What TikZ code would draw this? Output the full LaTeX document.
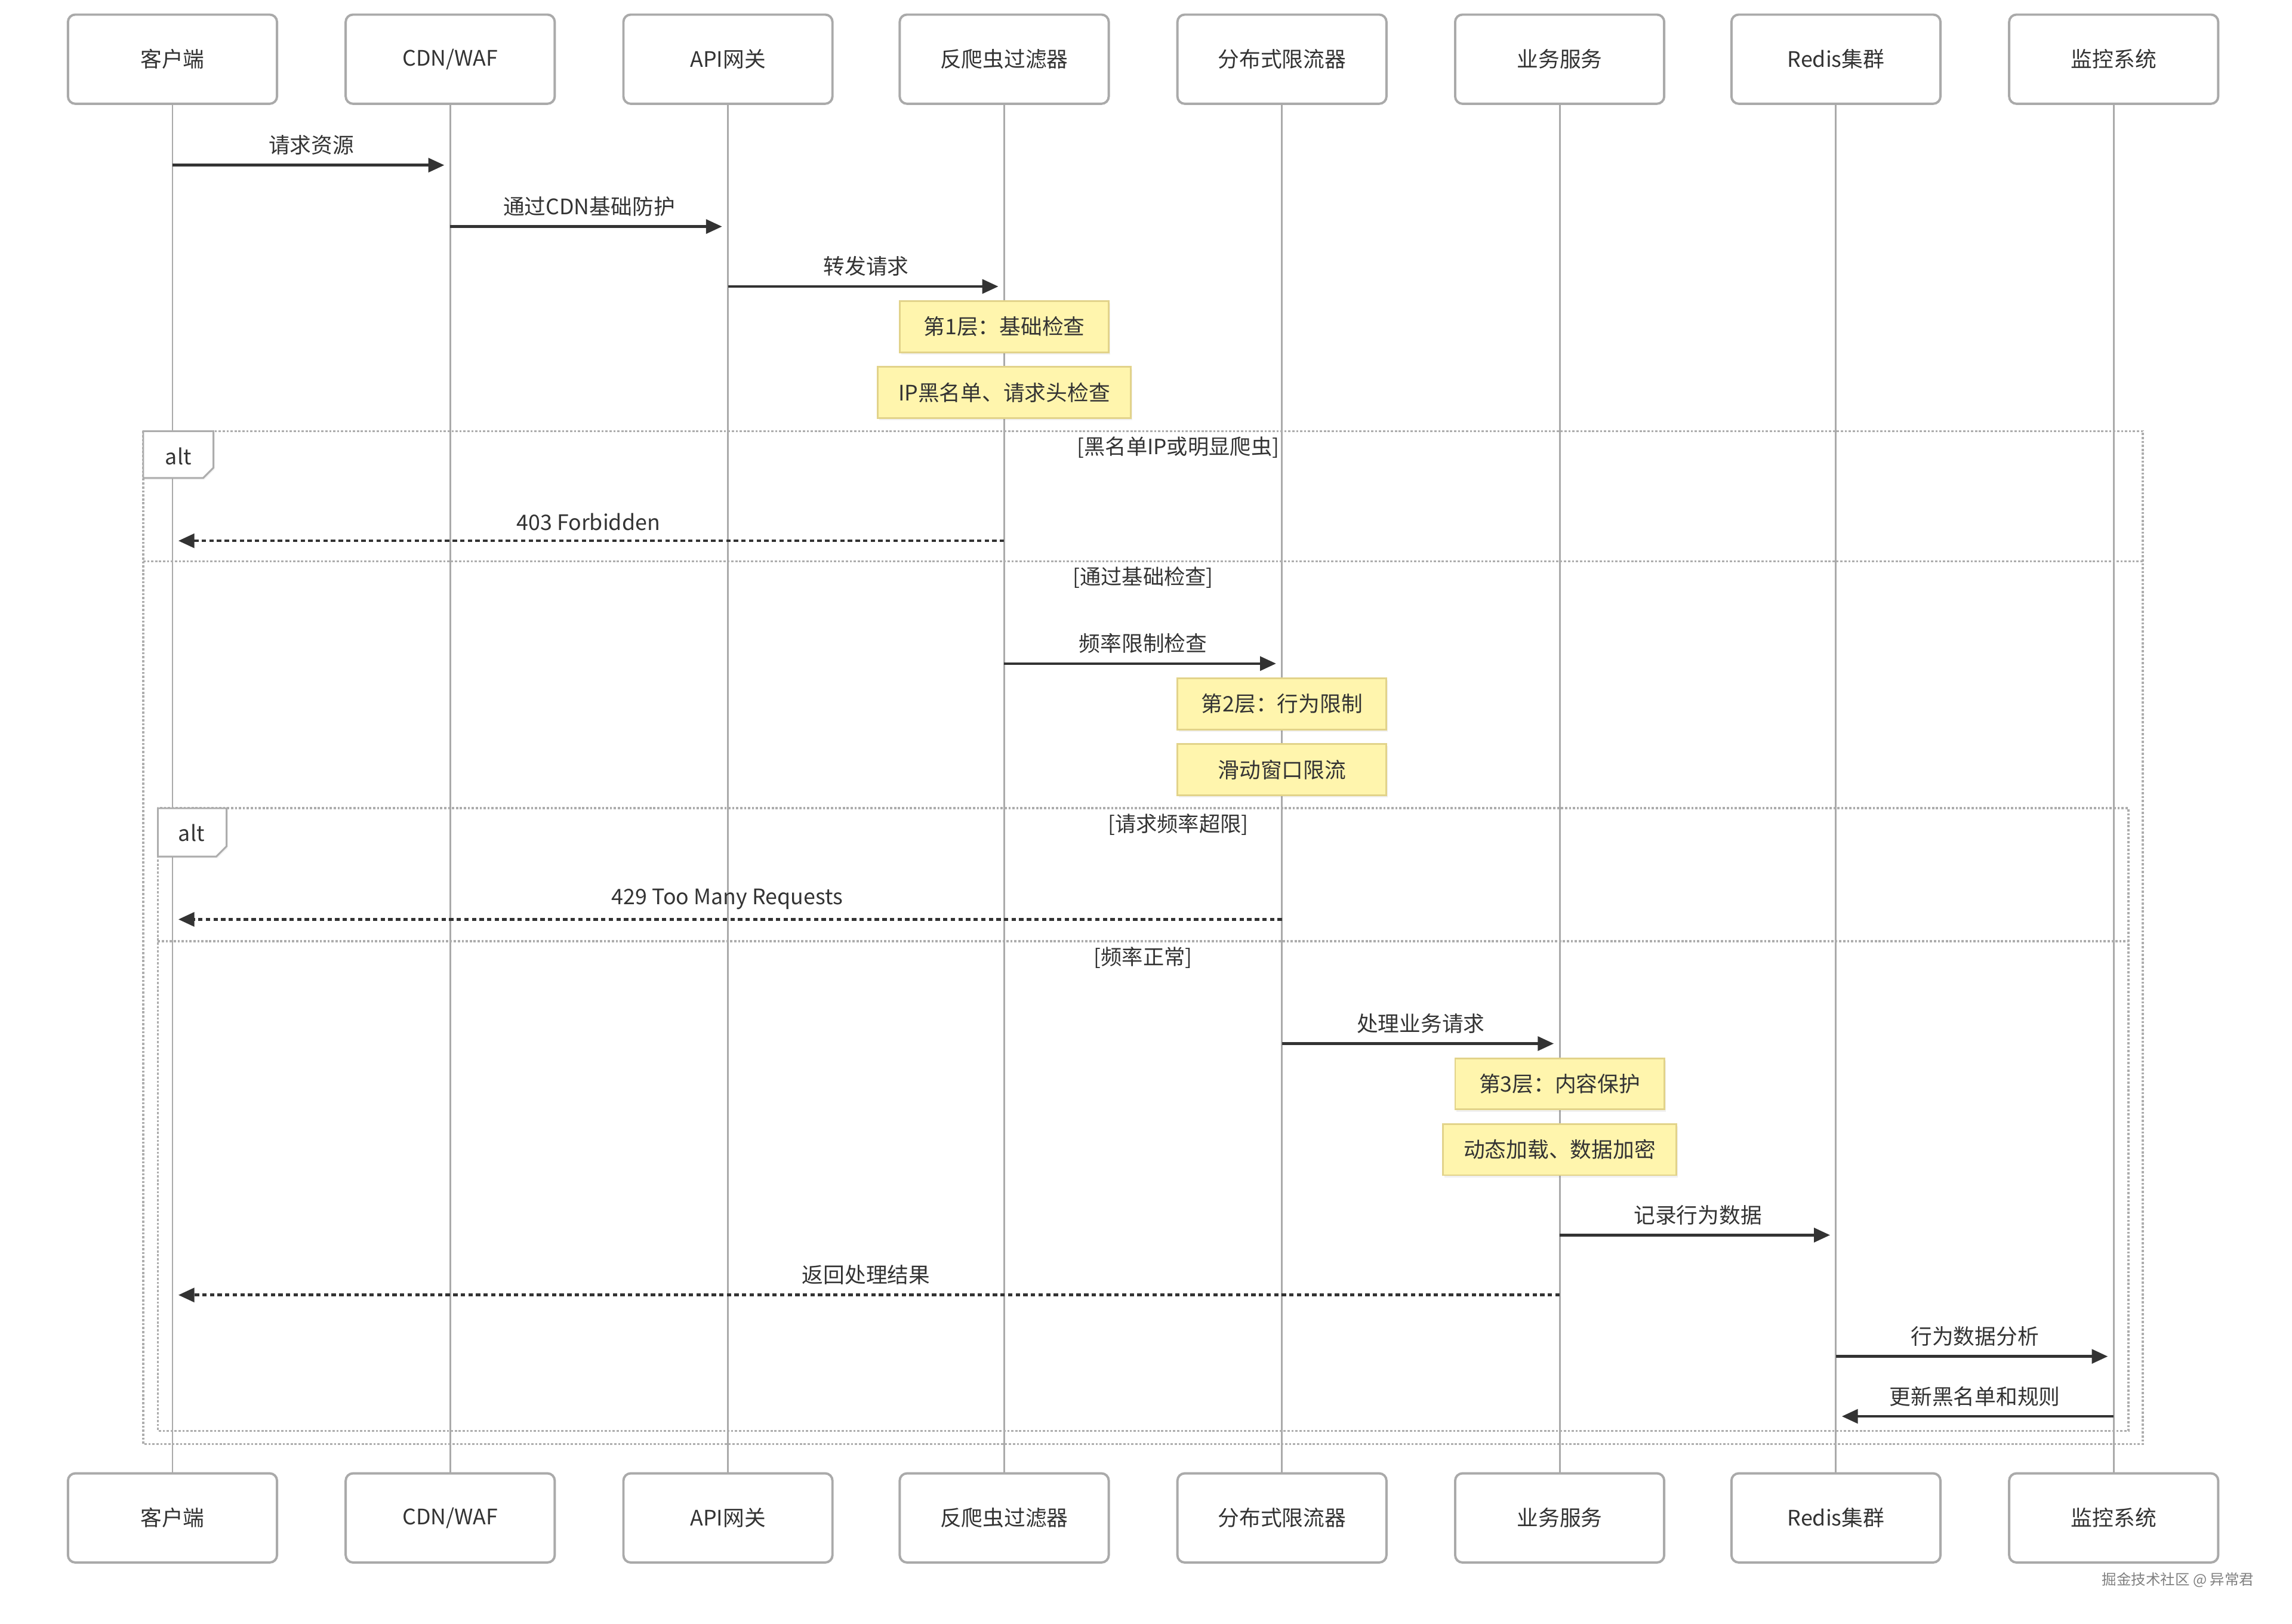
\documentclass[tikz,border=0pt]{standalone}
\usepackage{fontspec}
\setmainfont{Noto Sans CJK SC}
\usetikzlibrary{arrows.meta,positioning,calc,shadows}
\definecolor{ink}{HTML}{333333}
\definecolor{rule}{HTML}{AAAAAA}
\definecolor{notefill}{HTML}{FFF5AD}
\definecolor{noteedge}{HTML}{E2D38A}
\definecolor{framegray}{HTML}{ADADAD}

\begin{document}
\begin{tikzpicture}[x=0.5pt,y=-0.5pt,font=\fontsize{7.3}{9}\selectfont,text=ink,
  actor/.style={draw=rule,line width=0.8pt,fill=white,rounded corners=2.5pt,minimum width=71.5pt,minimum height=30.5pt},
  life/.style={draw=rule,line width=0.6pt},
  note/.style={draw=noteedge,line width=0.6pt,fill=notefill,minimum width=71.5pt,minimum height=17.5pt,inner xsep=7pt,
    drop shadow={opacity=0.12,shadow xshift=0.5pt,shadow yshift=-0.8pt}},
  msg/.style={draw=ink,line width=0.95pt,-{Triangle[length=5.5pt,width=4.8pt]},shorten >=2pt},
  reply/.style={msg,dash pattern=on 1.5pt off 1.1pt},
  lbl/.style={midway,above,inner sep=3pt},
  frame/.style={draw=framegray,line width=0.75pt,dash pattern=on 0.75pt off 0.6pt},
  guard/.style={font=\fontsize{7.2}{9}\selectfont},
  tab/.style={draw=framegray,line width=0.6pt,fill=white,drop shadow={opacity=0.1,shadow xshift=0.4pt,shadow yshift=-0.6pt}}]
\useasboundingbox (0,0) rectangle (1568,1111);

% participants, top and bottom
\foreach \n/\x/\t in {cli/118/客户端,cdn/308/{CDN/WAF},gw/498/API网关,filt/687/反爬虫过滤器,
                      lim/877/分布式限流器,svc/1067/业务服务,rds/1256/Redis集群,mon/1446/监控系统}{
  \node[actor] (\n)   at (\x,40.5)   {\t};
  \node[actor] (\n-b) at (\x,1038.5) {\t};
  \draw[life] (\n) -- (\n-b);
}

% alt frames
\draw[frame] (98,295) rectangle (1466,988);
\draw[frame] (98,384) -- (1466,384);
\draw[frame] (108,553) rectangle (1456,979);
\draw[frame] (108,644) -- (1456,644);
\draw[tab] (98,295) -- (146,295) -- (146,320) -- (139,327) -- (98,327) -- cycle;
\node (alt1) at (122,312) {alt};
\draw[tab] (108,553) -- (155,553) -- (155,579) -- (148,586) -- (108,586) -- cycle;
\node (alt2) at (131,570) {alt};
\node[guard] (g1) at (806,306) {[黑名单IP或明显爬虫]};
\node[guard] (g2) at (782,395) {[通过基础检查]};
\node[guard] (g3) at (806,564) {[请求频率超限]};
\node[guard] (g4) at (782,655) {[频率正常]};

% message rows
\coordinate (r1) at (0,113);
\coordinate (r2) at (0,155);
\coordinate (r3) at (0,196);
\coordinate (r4) at (0,370);
\coordinate (r5) at (0,454);
\coordinate (r6) at (0,629);
\coordinate (r7) at (0,714);
\coordinate (r8) at (0,845);
\coordinate (r9) at (0,886);
\coordinate (r10) at (0,928);
\coordinate (r11) at (0,969);

\draw[msg] (cli |- r1) -- (cdn |- r1) node[lbl] {请求资源};
\draw[msg] (cdn |- r2) -- (gw |- r2) node[lbl] {通过CDN基础防护};
\draw[msg] (gw |- r3) -- (filt |- r3) node[lbl] {转发请求};
\node[note] (n1) at (687,223.5) {第1层：基础检查};
\node[note] (n2) at (687,268.5) {IP黑名单、请求头检查};
\draw[reply] (filt |- r4) -- (cli |- r4) node[lbl] {403 Forbidden};
\draw[msg] (filt |- r5) -- (lim |- r5) node[lbl] {频率限制检查};
\node[note] (n3) at (877,481.5) {第2层：行为限制};
\node[note] (n4) at (877,526.5) {滑动窗口限流};
\draw[reply] (lim |- r6) -- (cli |- r6) node[lbl] {429 Too Many Requests};
\draw[msg] (lim |- r7) -- (svc |- r7) node[lbl] {处理业务请求};
\node[note] (n5) at (1067,741.5) {第3层：内容保护};
\node[note] (n6) at (1067,786.5) {动态加载、数据加密};
\draw[msg] (svc |- r8) -- (rds |- r8) node[lbl] {记录行为数据};
\draw[reply] (svc |- r9) -- (cli |- r9) node[lbl] {返回处理结果};
\draw[msg] (rds |- r10) -- (mon |- r10) node[lbl] {行为数据分析};
\draw[msg] (mon |- r11) -- (rds |- r11) node[lbl] {更新黑名单和规则};

\node[text=gray,font=\fontsize{5}{6}\selectfont] (wm) at (1490,1081) {掘金技术社区 @ 异常君};
\end{tikzpicture}
\end{document}
